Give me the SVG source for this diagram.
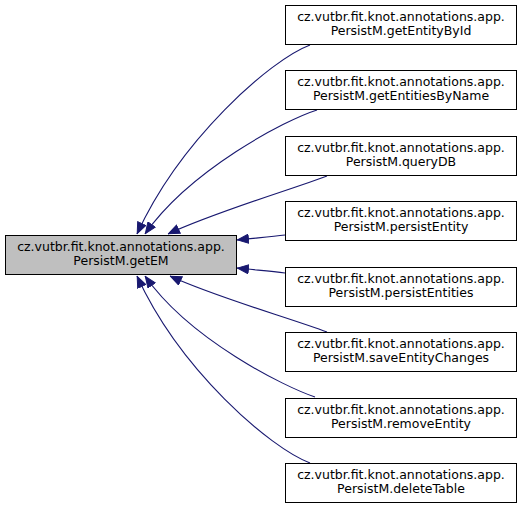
<svg xmlns="http://www.w3.org/2000/svg" width="523" height="508" viewBox="0 0 523 508">
<style>
.n rect{fill:#ffffff;stroke:#000000;stroke-width:1}
#main rect{fill:#bfbfbf}
.n text{font-family:"DejaVu Sans",sans-serif;font-size:12.5px;fill:#000000;text-anchor:middle}
#edges path{fill:none;stroke:#191970;stroke-width:1.1}
</style>
<defs>
<marker id="ah" viewBox="0 0 12 10" refX="12" refY="5" markerWidth="12" markerHeight="10" markerUnits="userSpaceOnUse" orient="auto">
<path d="M0.5,0.5 L11.5,5 L0.5,9.5 Z" fill="#191970" stroke="#191970" stroke-width="1"/>
</marker>
</defs>
<rect width="523" height="508" fill="#ffffff"/>
<g id="edges">
<path marker-end="url(#ah)" d="M310,45 C270,60 180,140 137,234"/>
<path marker-end="url(#ah)" d="M317,110 C285,120 190,170 145,234"/>
<path marker-end="url(#ah)" d="M327,176 C290,190 215,212 168,234"/>
<path marker-end="url(#ah)" d="M285,235 C270,237 255,238 237,240"/>
<path marker-end="url(#ah)" d="M285,273 C270,271 255,270 237,268"/>
<path marker-end="url(#ah)" d="M327,332 C290,318 215,297 170,276"/>
<path marker-end="url(#ah)" d="M315,397 C285,387 190,340 145,276"/>
<path marker-end="url(#ah)" d="M310,463 C270,448 180,370 137,276"/>
</g>
<g id="main" class="n"><rect x="5.5" y="235.5" width="231" height="39"/><text x="121" y="251">cz.vutbr.fit.knot.annotations.app.</text><text x="121" y="265">PersistM.getEM</text></g>
<g id="n1" class="n"><rect x="285.5" y="5.5" width="231" height="39"/><text x="401" y="21">cz.vutbr.fit.knot.annotations.app.</text><text x="401" y="35">PersistM.getEntityById</text></g>
<g id="n2" class="n"><rect x="285.5" y="70.5" width="231" height="39"/><text x="401" y="86">cz.vutbr.fit.knot.annotations.app.</text><text x="401" y="100">PersistM.getEntitiesByName</text></g>
<g id="n3" class="n"><rect x="285.5" y="136.5" width="231" height="39"/><text x="401" y="152">cz.vutbr.fit.knot.annotations.app.</text><text x="401" y="166">PersistM.queryDB</text></g>
<g id="n4" class="n"><rect x="285.5" y="201.5" width="231" height="39"/><text x="401" y="217">cz.vutbr.fit.knot.annotations.app.</text><text x="401" y="231">PersistM.persistEntity</text></g>
<g id="n5" class="n"><rect x="285.5" y="267.5" width="231" height="39"/><text x="401" y="283">cz.vutbr.fit.knot.annotations.app.</text><text x="401" y="297">PersistM.persistEntities</text></g>
<g id="n6" class="n"><rect x="285.5" y="332.5" width="231" height="39"/><text x="401" y="348">cz.vutbr.fit.knot.annotations.app.</text><text x="401" y="362">PersistM.saveEntityChanges</text></g>
<g id="n7" class="n"><rect x="285.5" y="398.5" width="231" height="39"/><text x="401" y="414">cz.vutbr.fit.knot.annotations.app.</text><text x="401" y="428">PersistM.removeEntity</text></g>
<g id="n8" class="n"><rect x="285.5" y="463.5" width="231" height="39"/><text x="401" y="479">cz.vutbr.fit.knot.annotations.app.</text><text x="401" y="493">PersistM.deleteTable</text></g>
</svg>
